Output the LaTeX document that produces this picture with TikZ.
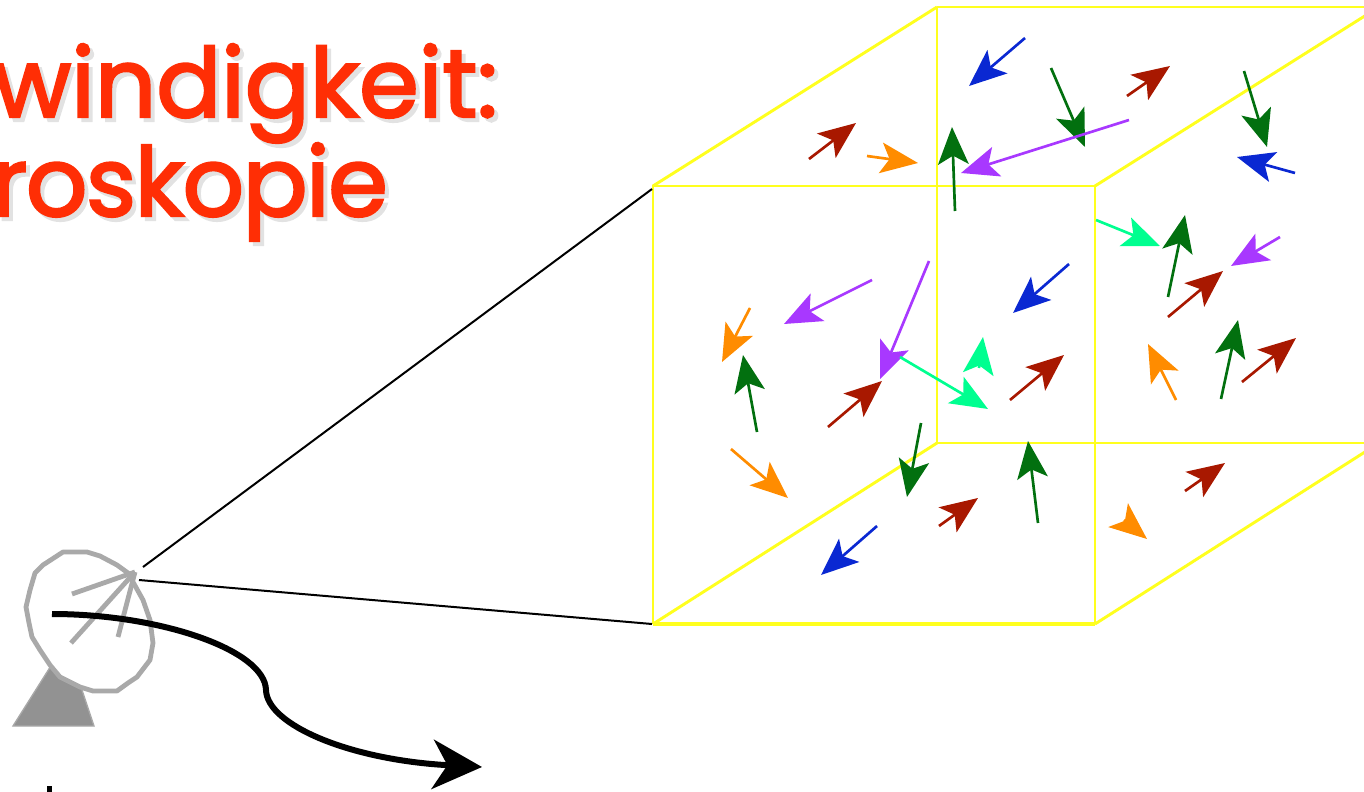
\documentclass[tikz,border=0pt]{standalone}
\usepackage{fontspec}
\usepackage{xcolor}
\usetikzlibrary{arrows.meta}
\newfontfamily\titlefont[FakeBold=2.5]{Poppins}
\definecolor{titlered}{HTML}{FF2E05}
\definecolor{titleshade}{HTML}{E2E2E2}
\definecolor{cubeyellow}{HTML}{FFFF1E}
\definecolor{dishgray}{HTML}{A9A9A9}
\definecolor{basegray}{HTML}{929292}
\definecolor{vblue}{HTML}{0A28D2}
\definecolor{vgreen}{HTML}{02700F}
\definecolor{vbrown}{HTML}{A81800}
\definecolor{vorange}{HTML}{FF8C00}
\definecolor{vpurple}{HTML}{A838FF}
\definecolor{vmint}{HTML}{00FF90}
\tikzset{
  titletext/.style={anchor=base east,inner sep=0pt,font=\titlefont\fontsize{72pt}{72pt}\selectfont},
  narrowtext/.style={font=\titlefont\fontsize{72pt}{72pt}\selectfont\addfontfeature{LetterSpace=-1.5}},
  cubeedge/.style={draw=cubeyellow,line width=2.2pt},
  sightline/.style={draw=black,line width=1.5pt},
  dishline/.style={draw=dishgray,line width=3.6pt,line join=round},
  velocity/.style={-{Stealth[length=28pt,width=23pt,inset=6.5pt]},line width=2pt}
}

\begin{document}
\begin{tikzpicture}[x=0.75pt,y=-0.75pt]
\useasboundingbox (0,0) rectangle (1364,792);
\clip (0,0) rectangle (1364,792);
\node[titletext,text=titleshade] (shadeA) at (502,121) {windigkeit:};
\node[titletext,narrowtext,text=titleshade] (shadeB) at (392,220) {roskopie};
\node[titletext,text=titlered] (titleA) at (498,117) {windigkeit:};
\node[titletext,narrowtext,text=titlered] (titleB) at (388,216) {roskopie};
\draw[cubeedge] (653,186) rectangle (1095,623);
\draw[cubeedge] (653,625)--(1095,625);
\draw[cubeedge] (937,7)--(1380,7);
\draw[cubeedge] (937,7)--(937,443)--(1380,443);
\draw[cubeedge] (653,186)--(937,7);
\draw[cubeedge] (1095,186)--(1379,7);
\draw[cubeedge] (653,624)--(937,443);
\draw[cubeedge] (1095,624)--(1379,443);
\draw[sightline] (143,567)--(652,189);
\draw[sightline] (139,580)--(652,624);
\fill[basegray,draw=dishgray,line width=1pt] (13,726)--(66,642)--(94,726)--cycle;
\draw[dishline,fill=white] (63,552)--(87,552)--(100,556)--(117,565)--(128,573)--(133,582)--(143,600)--(150,620)--(153,643)--(150,660)--(137,677)--(128,683)--(117,691)--(93,691)--(80,687)--(60,677)--(50,665)--(40,650)--(32,637)--(29,623)--(26,607)--(30,590)--(35,573)--(43,565)--cycle;
\foreach \px/\py in {72/594,71/643,118/637}
  {\draw[dishline] (135,572)--(\px,\py);}
\draw[-{Stealth[length=37pt,width=37pt,inset=11pt]},line width=4.5pt] (52,614) .. controls (160,614) and (265,650) .. (266,690) .. controls (267,725) and (350,760) .. (482,767);
\fill (47,786) rectangle (52,792);
\foreach \ax/\ay/\bx/\by in {1025/38/969/86,877/526/821/575,1069/264/1013/313,1295/173/1237/157}
  {\draw[velocity,vblue] (\ax,\ay)--(\bx,\by);}
\foreach \ax/\ay/\bx/\by in {1051/68/1085/147,1244/71/1267/147,955/211/952/127,1168/297/1185/215,757/432/743/355,921/423/907/497,1038/523/1028/441,1221/399/1238/320}
  {\draw[velocity,vgreen] (\ax,\ay)--(\bx,\by);}
\foreach \ax/\ay/\bx/\by in {1127/96/1170/66,809/159/856/123,1168/317/1223/271,828/427/882/381,1010/400/1064/355,1242/382/1296/338,939/526/978/498,1185/491/1225/463}
  {\draw[velocity,vbrown] (\ax,\ay)--(\bx,\by);}
\foreach \ax/\ay/\bx/\by in {867/156/918/163,750/308/722/362,731/449/788/498,1176/400/1148/344,1124/520/1147/539}
  {\draw[velocity,vorange] (\ax,\ay)--(\bx,\by);}
\foreach \ax/\ay/\bx/\by in {1129/120/961/173,1280/237/1231/266,872/280/784/324,929/261/880/379}
  {\draw[velocity,vpurple] (\ax,\ay)--(\bx,\by);}
\foreach \ax/\ay/\bx/\by in {1096/220/1160/246,900/357/988/409,979/368/983/337}
  {\draw[velocity,vmint] (\ax,\ay)--(\bx,\by);}
\end{tikzpicture}
\end{document}
